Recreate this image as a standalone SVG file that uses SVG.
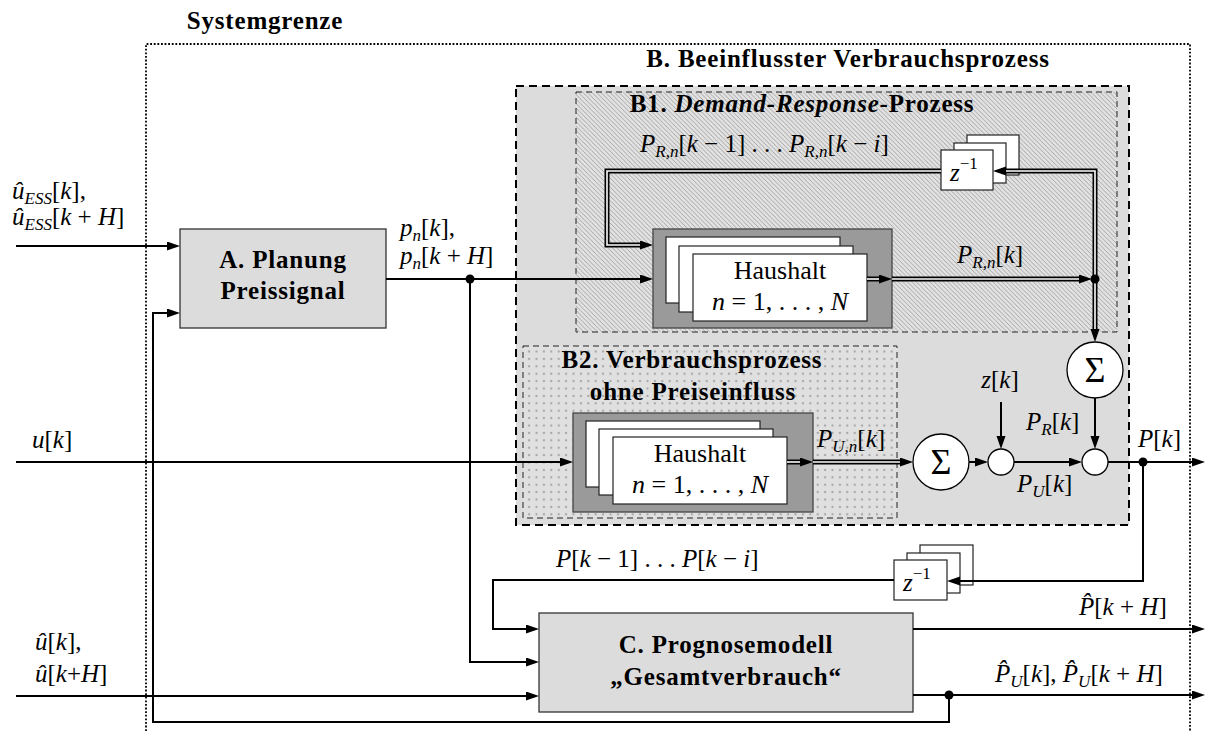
<svg xmlns="http://www.w3.org/2000/svg" width="1214" height="731" viewBox="0 0 1214 731">
<style>
.t{font-family:"Liberation Serif",serif;font-size:25px;fill:#000}
.i{font-style:italic}
.s{font-size:17px}
.bt{font-family:"Liberation Serif",serif;font-size:25px;font-weight:bold;letter-spacing:0.8px;fill:#000}
.hh{font-family:"Liberation Serif",serif;font-size:26px;fill:#000}
.sig{font-family:"Liberation Serif",serif;font-size:36px;fill:#000}
.ln{fill:none;stroke:#000;stroke-width:2}
.do{fill:none;stroke:#000;stroke-width:5}
.di{fill:none;stroke:#fff;stroke-width:1.6}
.blk{fill:#dcdcdc;stroke:#333;stroke-width:1.3}
.hout{fill:#9a9a9a;stroke:#444;stroke-width:1.3}
.wb{fill:#fff;stroke:#222;stroke-width:1.2}
.cir{fill:#fff;stroke:#000;stroke-width:1.3}
.dot{fill:#000}
</style>
<defs>
<marker id="ah" markerUnits="userSpaceOnUse" markerWidth="14" markerHeight="10" refX="5" refY="4.5" orient="auto">
<path d="M0,0 L13,4.5 L0,9 z" fill="#000"/>
</marker>
<pattern id="hatch" patternUnits="userSpaceOnUse" width="4.5" height="4.5">
<rect width="4.5" height="4.5" fill="#e2e2e2"/>
<path d="M-1,-1 L5.5,5.5 M-1,3.5 L1,5.5 M3.5,-1 L5.5,1" stroke="#969696" stroke-width="0.8"/>
</pattern>
<pattern id="dots" patternUnits="userSpaceOnUse" width="7.4" height="7.4">
<rect width="7.4" height="7.4" fill="#e0e0e0"/>
<circle cx="3.7" cy="3.7" r="1.15" fill="#a6a6a6"/>
</pattern>
</defs>
<rect width="1214" height="731" fill="#fff"/>

<g id="systemgrenze">
<path d="M146,731 V44 H1190 V731" fill="none" stroke="#000" stroke-width="1.8" stroke-dasharray="1.8 1.8"/>
<text class="bt" x="265" y="29" text-anchor="middle">Systemgrenze</text>
</g>

<g id="B">
<rect x="516" y="86" width="613" height="439" fill="#dcdcdc" stroke="#000" stroke-width="2" stroke-dasharray="8 5"/>
<text class="bt" x="848" y="67" text-anchor="middle">B. Beeinflusster Verbrauchsprozess</text>
</g>

<g id="B1">
<rect x="576" y="92" width="541" height="240" fill="url(#hatch)" stroke="#222" stroke-width="1" stroke-dasharray="6 4"/>
<text class="bt" x="802" y="112" text-anchor="middle">B1. <tspan font-style="italic">Demand-Response</tspan>-Prozess</text>
</g>

<g id="B2">
<rect x="523" y="346" width="374" height="172" fill="url(#dots)" stroke="#222" stroke-width="1" stroke-dasharray="6 4"/>
<text class="bt" x="692" y="368" text-anchor="middle">B2. Verbrauchsprozess</text>
<text class="bt" x="693" y="400" text-anchor="middle">ohne Preiseinfluss</text>
</g>

<g id="A">
<rect class="blk" x="180" y="229" width="206" height="99"/>
<text class="bt" x="283" y="268" text-anchor="middle">A. Planung</text>
<text class="bt" x="283" y="299" text-anchor="middle">Preissignal</text>
</g>

<g id="C">
<rect class="blk" x="539" y="613" width="374" height="99"/>
<text class="bt" x="726" y="653" text-anchor="middle">C. Prognosemodell</text>
<text class="bt" x="726" y="685" text-anchor="middle">„Gesamtverbrauch“</text>
</g>

<g id="haushalt-B1">
<rect class="hout" x="653" y="229" width="239" height="99"/>
<rect class="wb" x="666" y="237" width="174" height="66"/>
<rect class="wb" x="679" y="246" width="174" height="66"/>
<rect class="wb" x="693" y="254" width="174" height="67"/>
<text class="hh" x="780" y="279" text-anchor="middle">Haushalt</text>
<text class="hh" x="780" y="310" text-anchor="middle"><tspan class="i">n</tspan> = 1, . . . , <tspan class="i">N</tspan></text>
</g>

<g id="haushalt-B2">
<rect class="hout" x="573" y="413" width="240" height="99"/>
<rect class="wb" x="586" y="421" width="174" height="66"/>
<rect class="wb" x="599" y="429" width="174" height="66"/>
<rect class="wb" x="613" y="437" width="174" height="67"/>
<text class="hh" x="700" y="462" text-anchor="middle">Haushalt</text>
<text class="hh" x="700" y="493" text-anchor="middle"><tspan class="i">n</tspan> = 1, . . . , <tspan class="i">N</tspan></text>
</g>

<g id="delay-B1">
<rect class="wb" x="967" y="135" width="52" height="40"/>
<rect class="wb" x="954" y="143" width="52" height="40"/>
<rect class="wb" x="941" y="150" width="52" height="40"/>
</g>

<g id="delay-C">
<rect class="wb" x="920" y="545" width="53" height="40"/>
<rect class="wb" x="907" y="553" width="53" height="40"/>
<rect class="wb" x="894" y="560" width="53" height="40"/>
</g>

<g id="connectors">
<path class="ln" d="M16,246 H172" marker-end="url(#ah)"/>
<path class="ln" d="M949,695 V722 H153 V313 H172" marker-end="url(#ah)"/>
<path class="ln" d="M386,279 H645" marker-end="url(#ah)"/>
<path class="ln" d="M470,279 V662 H531" marker-end="url(#ah)"/>
<path class="ln" d="M16,462 H565" marker-end="url(#ah)"/>
<path class="ln" d="M16,696 H531" marker-end="url(#ah)"/>
<path class="ln" d="M969,462 H980" marker-end="url(#ah)"/>
<path class="ln" d="M1001,402 V441" marker-end="url(#ah)"/>
<path class="ln" d="M1014,462 H1074" marker-end="url(#ah)"/>
<path class="ln" d="M1095,398 V441" marker-end="url(#ah)"/>
<path class="ln" d="M1108,462 H1197" marker-end="url(#ah)"/>
<path class="ln" d="M1143,462 V581 H955" marker-end="url(#ah)"/>
<path class="ln" d="M894,580 H493 V629 H531" marker-end="url(#ah)"/>
<path class="ln" d="M913,629 H1197" marker-end="url(#ah)"/>
<path class="ln" d="M913,695 H1197" marker-end="url(#ah)"/>

<path class="do" d="M941,171 H607 V245 H645" marker-end="url(#ah)"/>
<path class="di" d="M941,171 H607 V245 H640"/>
<path class="do" d="M867,279 H884" marker-end="url(#ah)"/>
<path class="di" d="M867,279 H879"/>
<path class="do" d="M892,279 H1084" marker-end="url(#ah)"/>
<path class="di" d="M892,279 H1079"/>
<path class="do" d="M1095,279 V171 H1001" marker-end="url(#ah)"/>
<path class="di" d="M1095,279 V171 H1006"/>
<path class="do" d="M1095,279 V334" marker-end="url(#ah)"/>
<path class="di" d="M1095,279 V329"/>
<path class="do" d="M787,462 H805" marker-end="url(#ah)"/>
<path class="di" d="M787,462 H800"/>
<path class="do" d="M813,462 H905" marker-end="url(#ah)"/>
<path class="di" d="M813,462 H900"/>

<circle class="dot" cx="470" cy="279" r="4.5"/>
<circle class="dot" cx="1095" cy="279" r="4.5"/>
<circle class="dot" cx="1143" cy="462" r="4.5"/>
<circle class="dot" cx="949" cy="695" r="4.5"/>
</g>

<g id="sum-R">
<circle class="cir" cx="1095" cy="370" r="28"/>
<text class="sig" x="1095" y="382" text-anchor="middle">Σ</text>
</g>
<g id="sum-U">
<circle class="cir" cx="941" cy="462" r="28"/>
<text class="sig" x="941" y="474" text-anchor="middle">Σ</text>
</g>
<g id="add-z">
<circle class="cir" cx="1001" cy="462" r="13"/>
</g>
<g id="add-P">
<circle class="cir" cx="1095" cy="462" r="13"/>
</g>

<g id="labels">
<text class="t" x="950" y="181"><tspan class="i">z</tspan><tspan class="s" dy="-12">−1</tspan></text>
<text class="t" x="903" y="591"><tspan class="i">z</tspan><tspan class="s" dy="-12">−1</tspan></text>

<text class="t" x="12" y="199"><tspan class="i">û</tspan><tspan class="s i" dy="5">ESS</tspan><tspan dy="-5">[</tspan><tspan class="i">k</tspan>],</text>
<text class="t" x="12" y="225"><tspan class="i">û</tspan><tspan class="s i" dy="5">ESS</tspan><tspan dy="-5">[</tspan><tspan class="i">k</tspan> + <tspan class="i">H</tspan>]</text>

<text class="t" x="400" y="236"><tspan class="i">p</tspan><tspan class="s i" dy="5">n</tspan><tspan dy="-5">[</tspan><tspan class="i">k</tspan>],</text>
<text class="t" x="400" y="264"><tspan class="i">p</tspan><tspan class="s i" dy="5">n</tspan><tspan dy="-5">[</tspan><tspan class="i">k</tspan> + <tspan class="i">H</tspan>]</text>

<text class="t" x="32" y="448"><tspan class="i">u</tspan>[<tspan class="i">k</tspan>]</text>

<text class="t" x="640" y="152"><tspan class="i">P</tspan><tspan class="s i" dy="5">R,n</tspan><tspan dy="-5">[</tspan><tspan class="i">k</tspan> − 1] . . . <tspan class="i">P</tspan><tspan class="s i" dy="5">R,n</tspan><tspan dy="-5">[</tspan><tspan class="i">k</tspan> − <tspan class="i">i</tspan>]</text>

<text class="t" x="957" y="263"><tspan class="i">P</tspan><tspan class="s i" dy="5">R,n</tspan><tspan dy="-5">[</tspan><tspan class="i">k</tspan>]</text>

<text class="t" x="817" y="447"><tspan class="i">P</tspan><tspan class="s i" dy="5">U,n</tspan><tspan dy="-5">[</tspan><tspan class="i">k</tspan>]</text>

<text class="t" x="1000" y="388" text-anchor="middle"><tspan class="i">z</tspan>[<tspan class="i">k</tspan>]</text>
<text class="t" x="1026" y="430"><tspan class="i">P</tspan><tspan class="s i" dy="5">R</tspan><tspan dy="-5">[</tspan><tspan class="i">k</tspan>]</text>
<text class="t" x="1017" y="492"><tspan class="i">P</tspan><tspan class="s i" dy="5">U</tspan><tspan dy="-5">[</tspan><tspan class="i">k</tspan>]</text>
<text class="t" x="1138" y="447"><tspan class="i">P</tspan>[<tspan class="i">k</tspan>]</text>

<text class="t" x="556" y="567"><tspan class="i">P</tspan>[<tspan class="i">k</tspan> − 1] . . . <tspan class="i">P</tspan>[<tspan class="i">k</tspan> − <tspan class="i">i</tspan>]</text>

<text class="t" x="1079" y="615"><tspan class="i">P̂</tspan>[<tspan class="i">k</tspan> + <tspan class="i">H</tspan>]</text>
<text class="t" x="995" y="682"><tspan class="i">P̂</tspan><tspan class="s i" dy="5">U</tspan><tspan dy="-5">[</tspan><tspan class="i">k</tspan>], <tspan class="i">P̂</tspan><tspan class="s i" dy="5">U</tspan><tspan dy="-5">[</tspan><tspan class="i">k</tspan> + <tspan class="i">H</tspan>]</text>

<text class="t" x="35" y="650"><tspan class="i">û</tspan>[<tspan class="i">k</tspan>],</text>
<text class="t" x="35" y="682"><tspan class="i">û</tspan>[<tspan class="i">k</tspan>+<tspan class="i">H</tspan>]</text>
</g>
</svg>
